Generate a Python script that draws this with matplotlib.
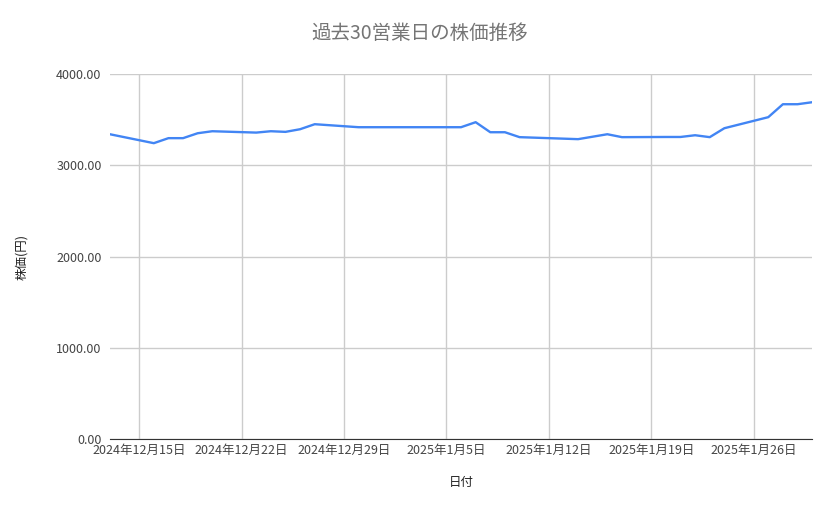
import matplotlib
matplotlib.use("Agg")
import matplotlib.pyplot as plt
import pandas as pd

plt.rcParams['font.family'] = ['Noto Sans CJK JP', 'DejaVu Sans']

dates = ["2024-12-13","2024-12-16","2024-12-17","2024-12-18","2024-12-19","2024-12-20",
         "2024-12-23","2024-12-24","2024-12-25","2024-12-26","2024-12-27","2024-12-30",
         "2024-12-31","2025-01-06","2025-01-07","2025-01-08","2025-01-09","2025-01-10",
         "2025-01-14","2025-01-15","2025-01-16","2025-01-17","2025-01-20","2025-01-21",
         "2025-01-22","2025-01-23","2025-01-24","2025-01-27","2025-01-28","2025-01-29","2025-01-30"]
prices = [3342,3244,3299,3299,3353,3375,3360,3375,3368,3397,3452,3419,
          3419,3419,3474,3364,3364,3310,3288,3315,3342,3310,3312,3312,
          3331,3310,3408,3529,3671,3671,3693]
yticks = [0,1000,2000,3000,4000]

x = pd.to_datetime(dates)
fig = plt.figure(figsize=(8.39,5.19), dpi=100)
ax = fig.add_axes([0.131,0.154,0.837,0.703])
ax.plot(x, prices, color='#4285f4', lw=1.7)
ax.set_xlim(pd.Timestamp("2024-12-13"), pd.Timestamp("2025-01-30"))
ax.set_ylim(0,4000)
ax.set_yticks(yticks)
ax.set_yticklabels([f"{v:.2f}" for v in yticks])
ticks = pd.date_range("2024-12-15","2025-01-26",freq="7D")
ax.set_xticks(ticks)
ax.set_xticklabels([f"{d.year}年{d.month}月{d.day}日" for d in ticks])
ax.grid(True, color='#cccccc', lw=1)
ax.set_axisbelow(True)
for s in ['top','right','left']:
    ax.spines[s].set_visible(False)
ax.spines['bottom'].set_color('#333333')
ax.tick_params(length=0, labelsize=9, colors='#444444')
ax.tick_params(axis='y', pad=6)
ax.set_xlabel("日付", fontsize=9, color='#222222', labelpad=14)
ax.set_ylabel("株価(円)", fontsize=9, color='#222222', labelpad=20)
fig.text(0.5, 0.925, "過去30営業日の株価推移", ha='center', fontsize=14, color='#757575')
fig.savefig("out.png", dpi=100)
